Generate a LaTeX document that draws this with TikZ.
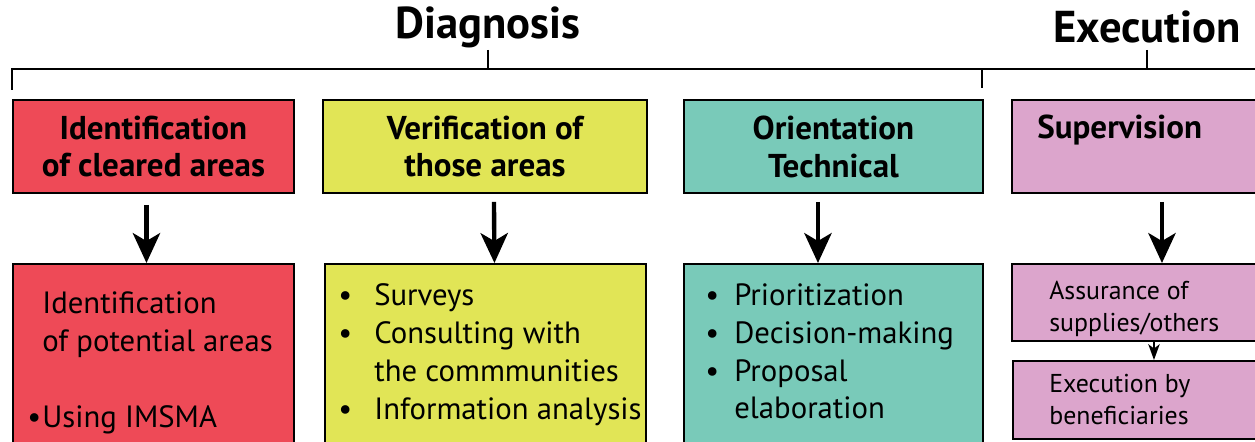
\documentclass[tikz,border=0pt]{standalone}
\usepackage{fontspec}
\setmainfont{PT Sans}
\usetikzlibrary{arrows.meta,positioning,calc}

\definecolor{cred}{HTML}{EE4A57}
\definecolor{cyellow}{HTML}{E1E556}
\definecolor{cteal}{HTML}{79CAB9}
\definecolor{cpink}{HTML}{DCA5CC}

\setlength{\unitlength}{0.02cm}
\newcommand{\itm}[1][29]{\makebox[#1\unitlength][l]{\textbullet}}

\begin{document}
\begin{tikzpicture}[x=0.02cm, y=-0.02cm,
    box/.style 2 args={draw, line width=1.1pt, anchor=north west, inner sep=0pt,
      minimum width=#1*0.02cm, minimum height=#2*0.02cm},
    head/.style={font=\bfseries\fontsize{18.8}{21.6}\selectfont, align=center},
    title/.style={font=\bfseries\fontsize{25.4}{28}\selectfont},
    body/.style={font=\fontsize{17.5}{21.6}\selectfont, align=left, anchor=north west, inner sep=0pt},
    small/.style={font=\fontsize{14.7}{18.2}\selectfont, align=left, anchor=north west, inner sep=0pt},
    down/.style={line width=2.5pt, -{Stealth[length=17pt, width=15.5pt, inset=4.5pt]}},
    brace/.style={line width=1.1pt}]
    \useasboundingbox (0,0) rectangle (1255,442);
    \clip (0,0) rectangle (1255,442);

    % phase titles and bracket
    \node[title] (diag) at (488,27) {Diagnosis};
    \node[title] (exec) at (1147,27) {Execution};
    \coordinate (bar) at (12,69);
    \draw[brace] (12,90) -- (bar) -- (1270,69);
    \draw[brace] (diag.south |- 50,50) -- (diag.south |- bar);
    \draw[brace] (exec.south |- 50,50) -- (exec.south |- bar);
    \draw[brace] (982,69) -- (982,88);

    % top row
    \node[box={281}{93}, fill=cred, head] (idtop) at (12,99) {Identification\\of cleared areas};
    \node[box={324}{93}, fill=cyellow, head] (vftop) at (322,99) {Verification of\\those areas};
    \node[box={299}{93}, fill=cteal, head] (ortop) at (683,99) {Orientation\\Technical};
    \node[box={300}{93}, fill=cpink] (sptop) at (1011,99) {};
    \node[head, anchor=west, inner sep=0pt] (sptxt) at (1037,130) {Supervision};

    % bottom row
    \node[box={281}{200}, fill=cred] (idbot) at (12,263) {};
    \node[box={321}{200}, fill=cyellow] (vfbot) at (324,263) {};
    \node[box={299}{200}, fill=cteal] (orbot) at (683,263) {};
    \node[box={300}{77}, fill=cpink] (spone) at (1011,263) {};
    \node[box={300}{78}, fill=cpink] (sptwo) at (1012,360) {};

    \node[body] (idlist) at (42,291) {Identification\\of potential areas\\[38\unitlength]%
      \llap{\textbullet\hspace{1\unitlength}}Using IMSMA};
    \node[body] (vflist) at (338,283) {\itm[36]Surveys\\\itm[36]Consulting with\\%
      \hspace*{36\unitlength}the commmunities\\\itm[36]Information analysis};
    \node[body] (orlist) at (705,283) {\itm Prioritization\\\itm Decision-making\\%
      \itm Proposal\\\hspace*{29\unitlength}elaboration};
    \node[small] (sponetxt) at (1049,281) {Assurance of\\supplies/others};
    \node[small] (sptwotxt) at (1049,374) {Execution by\\beneficiaries};

    % arrows
    \draw[down] ([xshift=-0.14cm]idtop.south) ++(0,11) -- ([xshift=-0.14cm]idbot.north);
    \draw[down] ([xshift=0.18cm]vftop.south) ++(0,8) -- ([xshift=0.18cm]vfbot.north);
    \draw[down] ([xshift=-0.31cm]ortop.south) ++(0,8) -- ([xshift=-0.31cm]orbot.north);
    \draw[down] ([xshift=3.02cm]sptop.south west) ++(0,8) -- ([xshift=3.02cm]spone.north west);
    \draw[line width=1pt, -{Stealth[length=9pt, width=6.5pt, inset=2.5pt]}]
      ([xshift=2.86cm]spone.south west) -- ([xshift=2.84cm]sptwo.north west);
\end{tikzpicture}
\end{document}
